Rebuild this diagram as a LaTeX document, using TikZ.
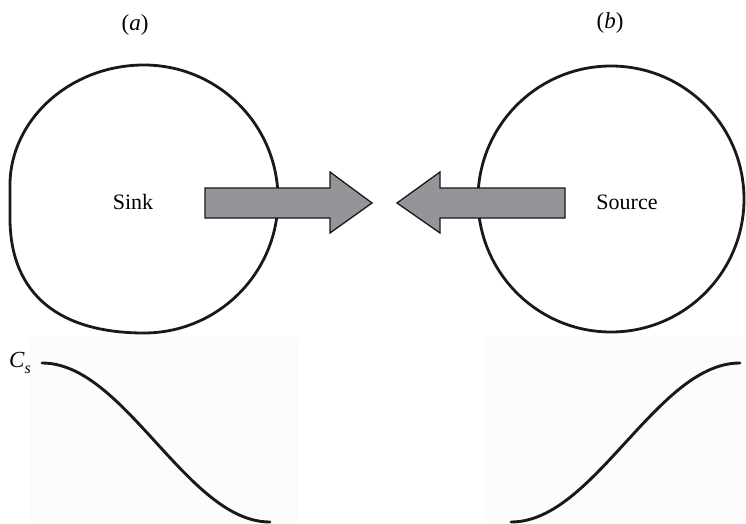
\documentclass[tikz,border=0pt]{standalone}
\usepackage{fontspec}
\setmainfont{Liberation Serif}
\begin{document}
\begin{tikzpicture}[x=1pt,y=1pt,
  outline/.style={draw=black!90,line width=2.8pt},
  flowarrow/.style={draw=black!90,line width=1.3pt,fill=arrowgray,line join=miter},
  profile/.style={draw=black!90,line width=2.9pt,line cap=round},
  panel/.style={fill=black!1,draw=none},
  tag/.style={font=\fontsize{23}{26}\selectfont},
  word/.style={font=\fontsize{22}{24}\selectfont}]
\definecolor{arrowgray}{HTML}{939598}
\useasboundingbox (0,0) rectangle (746,523);

% faint plot panels
\fill[panel] (30,0) rectangle (298,186);
\fill[panel] (485,0) rectangle (746,186);

% sink region: round on the right, flattened on the left
\draw[outline] (144,458) arc[start angle=90,end angle=-90,radius=134]
  .. controls (60,190) and (10,228) .. (10,305)
  -- (10,338) .. controls (10,403) and (70,458) .. (144,458) -- cycle;

% source region
\draw[outline] (611,324) circle[radius=133];

% flux arrows
\draw[flowarrow] (205,305) -- (330,305) -- (330,290) -- (372,320)
  -- (330,351) -- (330,335) -- (205,335) -- cycle;
\draw[flowarrow] (565,305) -- (440,305) -- (440,290) -- (397,320)
  -- (440,351) -- (440,335) -- (565,335) -- cycle;

% labels
\node[tag] (la) at (135,498) {(\textit{a})};
\node[tag] (lb) at (610,500) {(\textit{b})};
\node[word] (sink) at (133,321) {Sink};
\node[word] (source) at (627,321) {Source};
\node[tag,anchor=base west,inner sep=0pt] (cs) at (9,156)
  {\itshape C\raisebox{-6pt}{\fontsize{16}{16}\selectfont s}};

% concentration profiles
\draw[profile] plot[domain=0:1,samples=80] ({42+228*\x},{160-159*(1-cos(180*\x))/2});
\draw[profile] plot[domain=0:1,samples=80] ({511+229*\x},{1+159*(1-cos(180*\x))/2});
\end{tikzpicture}
\end{document}
